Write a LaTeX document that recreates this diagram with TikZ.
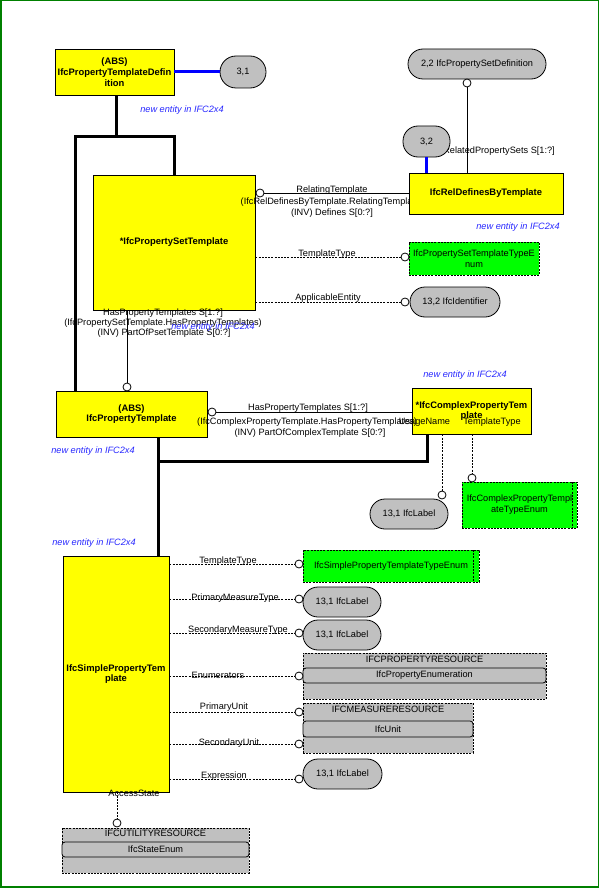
\documentclass[tikz,border=0pt]{standalone}
\usepackage{fontspec}
\setmainfont{Liberation Sans}
\definecolor{entY}{RGB}{255,255,0}
\definecolor{enumG}{RGB}{0,255,0}
\definecolor{ovalG}{RGB}{192,192,192}
\definecolor{frameG}{RGB}{0,128,0}
\definecolor{noteB}{RGB}{40,40,255}
\newcommand\fs{\fontsize{9.2}{10.8}\selectfont}
\newcommand\fb{\fontsize{9.4}{10.8}\selectfont}
\begin{document}
\begin{tikzpicture}[x=1pt,y=-1pt,
  ent/.style={draw, fill=entY, font=\bfseries\fb, align=center, inner sep=0pt, line width=0.8pt},
  ovl/.style={draw, fill=ovalG, rounded corners=15pt, font=\fs, inner sep=0pt, line width=0.8pt},
  enm/.style={draw, dash pattern=on 2pt off 1.2pt, fill=enumG, font=\fs, align=center, inner sep=0pt, line width=0.8pt},
  res/.style={draw, dash pattern=on 2pt off 1.2pt, fill=ovalG, inner sep=0pt, line width=0.8pt},
  inr/.style={draw, fill=ovalG, rounded corners=3pt, font=\fs, inner sep=0pt, line width=0.8pt},
  dot/.style={circle, draw, fill=white, inner sep=0pt, minimum size=8pt, line width=0.8pt},
  lbl/.style={font=\fs, inner sep=0pt},
  note/.style={font=\itshape\fs, text=noteB, inner sep=0pt},
  inh/.style={line width=3pt},
  blu/.style={line width=3pt, blue},
  att/.style={dash pattern=on 2pt off 1.2pt, line width=0.7pt},
  rel/.style={line width=0.8pt}
]
\useasboundingbox (0,0) rectangle (600,888);
\fill[white] (0,0) rectangle (600,888);
\draw[frameG, line width=1.5pt] (0.75,0.75) rectangle (598.5,887);

% ---------- coordinates for thick lines
\coordinate (j1) at (116,136);
\coordinate (b1) at (75,136);
\coordinate (k1) at (158,461);
\coordinate (k2) at (427,461);

% ---------- top entity
\node[ent, minimum width=119, minimum height=46] (ptd) at (114.5,72) {(ABS)\\IfcPropertyTemplateDefin\\ition};
\node[ovl, rounded corners=16pt, minimum width=46, minimum height=32] (o31) at (243,72) {3,1};
\draw[blu] (ptd.east) -- (o31.west);
\node[note] (n1) at (182,110) {new entity in IFC2x4};

% ---------- property set template
\node[ent, minimum width=162, minimum height=135] (psetT) at (174,242.5) {*IfcPropertySetTemplate};

% labels under the rel box
\node[lbl] (l1) at (332,190) {RelatingTemplate};
\node[lbl] (l2) at (332,202) {(IfcRelDefinesByTemplate.RelatingTemplate)};
\node[lbl] (l3) at (332,213) {(INV) Defines S[0:?]};

% rel defines by template
\node[lbl, anchor=east] (l4) at (555,151) {RelatedPropertySets S[1:?]};
\node[ovl, minimum width=138, minimum height=30] (o22) at (477,64) {2,2 IfcPropertySetDefinition};
\node[ent, minimum width=154, minimum height=41] (relDef) at (486,193.5) {IfcRelDefinesByTemplate};
\node[ovl, minimum width=47, minimum height=31] (o32) at (426.5,141.5) {3,2};
\draw[blu] (o32.south) -- (relDef.north -| o32.south);
\node[dot] (dRP) at (467,83) {};
\draw[rel] (relDef.north -| dRP) -- (dRP.south);
\node[note] (n2) at (518,227) {new entity in IFC2x4};

\node[dot] (dRT) at (260,193) {};
\draw[rel] (dRT.east) -- (relDef.west |- dRT);

% pset attributes
\node[enm, minimum width=130, minimum height=33] (enPS) at (474,258.5) {IfcPropertySetTemplateTypeE\\num};
\node[ovl, minimum width=90, minimum height=30] (o132) at (455,302) {13,2 IfcIdentifier};
\node[dot] (dPT) at (405,257) {};
\node[dot] (dAE) at (405,302) {};
\draw[att] (psetT.east |- dPT) -- (dPT.west);
\draw[att] (psetT.east |- dAE) -- (dAE.west);
\node[lbl] (l5) at (327,254) {TemplateType};
\node[lbl] (l6) at (328,298) {ApplicableEntity};

% thick tree 1
\node[ent, minimum width=151, minimum height=46] (propT) at (131.5,414) {(ABS)\\IfcPropertyTemplate};
\draw[inh] (ptd.south -| j1) -- (j1);
\draw[inh] (propT.north -| b1) -- (b1) -- (psetT.north |- b1) -- (psetT.north);

% pset -> property template
\node[dot] (dHP) at (127,387) {};
\draw[rel] (psetT.south -| dHP) -- (dHP.north);
\node[lbl] (l7) at (163,313) {HasPropertyTemplates S[1:?]};
\node[lbl] (l8) at (163,323) {(IfcPropertySetTemplate.HasPropertyTemplates)};
\node[lbl] (l9) at (164,333) {(INV) PartOfPsetTemplate S[0:?]};
\node[note] (n3) at (213,327) {new entity in IFC2x4};
\node[note] (n4) at (93,451) {new entity in IFC2x4};

% complex property template
\node[ent, minimum width=119, minimum height=46] (cplx) at (471.5,411) {*IfcComplexPropertyTem\\plate};
\node[note] (n5) at (465,375) {new entity in IFC2x4};
\node[dot] (dHC) at (212,412) {};
\draw[rel] (dHC.east) -- (cplx.west |- dHC);
\node[lbl] (l10) at (308,408) {HasPropertyTemplates S[1:?]};
\node[lbl, anchor=west] (l11) at (197,422) {(IfcComplexPropertyTemplate.HasPropertyTemplates)};
\node[lbl] (l12) at (310,433) {(INV) PartOfComplexTemplate S[0:?]};
\node[lbl] (l13) at (424.5,422) {UsageName};
\node[lbl] (l14) at (492,422) {TemplateType};

\node[ovl, minimum width=78, minimum height=30] (oCL) at (409,514) {13,1 IfcLabel};
\node[enm, minimum width=115, minimum height=46] (enC) at (519.5,505) {IfcComplexPropertyTempl\\ateTypeEnum};
\draw[att] (572,482) -- (572,528);
\node[dot] (dUN) at (442,495) {};
\node[dot] (dCT) at (472,478) {};
\draw[att] (cplx.south -| dUN) -- (dUN.north);
\draw[att] (cplx.south -| dCT) -- (dCT.north);

% simple property template
\node[ent, minimum width=106, minimum height=236] (simp) at (116,674) {IfcSimplePropertyTem\\plate};
\node[note] (n6) at (94,543) {new entity in IFC2x4};
\draw[inh] (propT.south -| k1) -- (simp.north -| k1);
\draw[inh] (k1) -- (k2) -- (cplx.south -| k2);

\node[enm, minimum width=176, minimum height=32] (enS) at (391,566) {IfcSimplePropertyTemplateTypeEnum};
\draw[att] (473,550) -- (473,582);
\node[ovl, minimum width=78, minimum height=30] (oPM) at (342,602) {13,1 IfcLabel};
\node[ovl, minimum width=78, minimum height=30] (oSM) at (342,635) {13,1 IfcLabel};
\node[res, minimum width=243, minimum height=46] (rP) at (424.5,676) {};
\node[lbl] (rPt) at (424.5,659.5) {IFCPROPERTYRESOURCE};
\node[inr, minimum width=243, minimum height=15] (rPi) at (424.5,675.5) {IfcPropertyEnumeration};
\node[res, minimum width=170, minimum height=50] (rM) at (388,728) {};
\node[lbl] (rMt) at (388,709) {IFCMEASURERESOURCE};
\node[inr, minimum width=170, minimum height=16] (rMi) at (388,729) {IfcUnit};
\node[ovl, minimum width=79, minimum height=30] (oEx) at (342.5,774) {13,1 IfcLabel};
\node[res, minimum width=187, minimum height=45] (rU) at (155.5,850.5) {};
\node[lbl] (rUt) at (155.5,833.5) {IFCUTILITYRESOURCE};
\node[inr, minimum width=187, minimum height=15] (rUi) at (155.5,849.5) {IfcStateEnum};

\node[dot] (dS1) at (299,564) {};
\node[dot] (dS2) at (299,599) {};
\node[dot] (dS3) at (299,633) {};
\node[dot] (dS4) at (299,676) {};
\node[dot] (dS5) at (299,712) {};
\node[dot] (dS6) at (299,744) {};
\node[dot] (dS7) at (299,779) {};
\node[dot] (dAS) at (117,823) {};
\foreach \d in {dS1,dS2,dS3,dS4,dS5,dS6,dS7}
  \draw[att] (simp.east |- \d) -- (\d.west);
\draw[att] (simp.south -| dAS) -- (dAS.north);

\node[lbl] (a1) at (228,561) {TemplateType};
\node[lbl] (a2) at (235,598) {PrimaryMeasureType};
\node[lbl] (a3) at (238,630) {SecondaryMeasureType};
\node[lbl] (a4) at (218,675) {Enumerators};
\node[lbl] (a5) at (224,707) {PrimaryUnit};
\node[lbl] (a6) at (229,743) {SecondaryUnit};
\node[lbl] (a7) at (224,776) {Expression};
\node[lbl] (a8) at (134,793) {AccessState};
\end{tikzpicture}
\end{document}
